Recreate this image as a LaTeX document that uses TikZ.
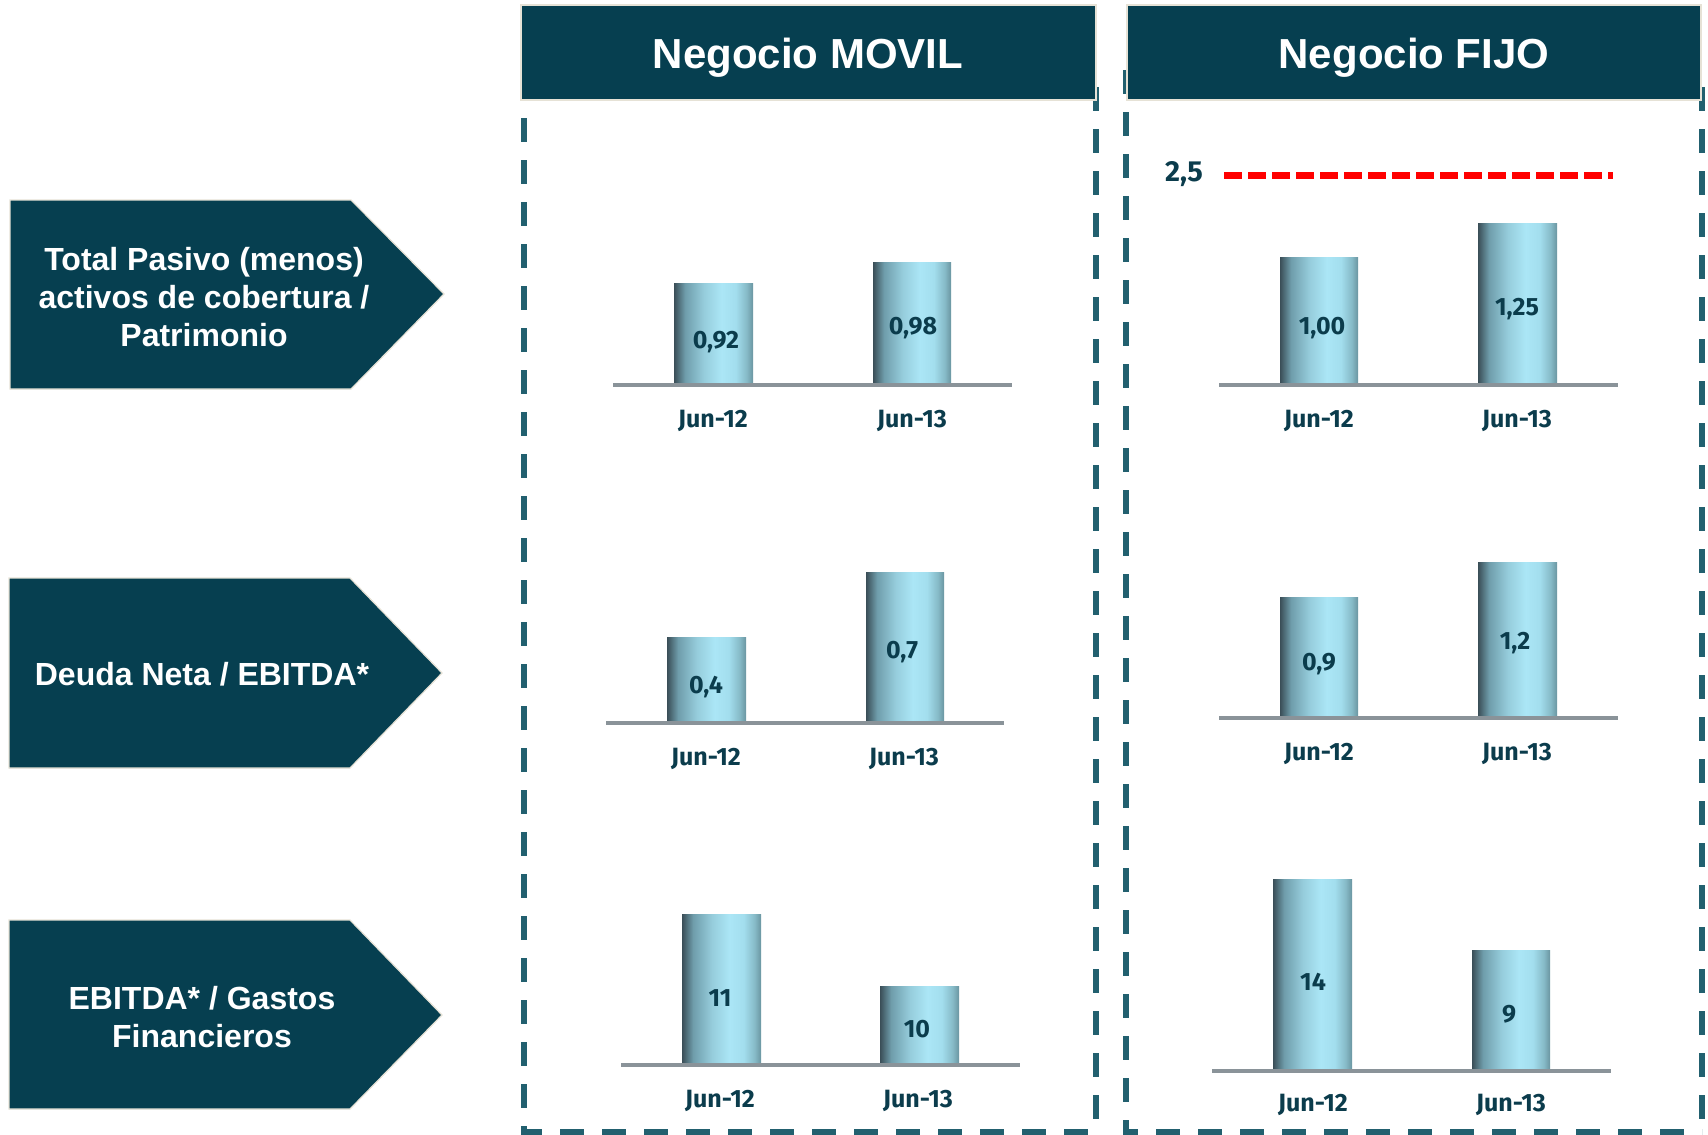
\documentclass[tikz,border=0pt]{standalone}
\usepackage{fontspec}
\setmainfont{Liberation Sans}
\newfontfamily\numfont{Fira Sans}
\definecolor{navy}{HTML}{063F50}
\definecolor{dashc}{HTML}{22606F}
\definecolor{txtc}{HTML}{0B3C4C}
\definecolor{baseg}{HTML}{8A9399}
\definecolor{edgec}{HTML}{E6E2D6}
\definecolor{ba}{HTML}{3A4E57}
\definecolor{bb}{HTML}{6F9DAB}
\definecolor{bc}{HTML}{96CDDC}
\definecolor{bd}{HTML}{ABE6F6}
\definecolor{be}{HTML}{A3DEEE}
\definecolor{bf}{HTML}{86BAC7}
\definecolor{bg}{HTML}{6A95A1}
\pgfdeclarehorizontalshading{barshade}{100bp}{color(0bp)=(ba); color(25bp)=(ba); color(32bp)=(bb); color(44bp)=(bc); color(55bp)=(bd); color(64bp)=(be); color(71bp)=(bf); color(75bp)=(bg); color(100bp)=(bg)}
\tikzset{
  arrowbox/.style={fill=navy, draw=edgec, line width=0.6pt},
  boxtext/.style={text=white, font=\fontsize{16}{19}\selectfont\bfseries, align=center},
  header/.style={fill=navy, draw=edgec, line width=0.6pt},
  headtext/.style={text=white, font=\fontsize{21}{25}\selectfont\bfseries},
  panel/.style={draw=dashc, line width=3pt, dash pattern=on 12pt off 9pt},
  barfill/.style={shading=barshade},
  baseline/.style={draw=baseg, line width=1.6pt},
  datelabel/.style={text=txtc, font=\numfont\fontsize{12.5}{14}\selectfont\bfseries},
  vallabel/.style={text=txtc, font=\numfont\fontsize{12.5}{14}\selectfont\bfseries},
  limitline/.style={draw=red, line width=3.5pt, dash pattern=on 9pt off 3pt},
}
\begin{document}
\begin{tikzpicture}[x=0.5pt,y=-0.5pt]
\useasboundingbox (0,0) rectangle (1708,1135);

% dashed panels
\draw[panel] (524,76) -- (524,1132) -- (1096,1132);
\draw[panel] (1096,87) -- (1096,1120);
\draw[panel] (1126,70) -- (1126,1132) -- (1702,1132);
\draw[panel] (1702,87) -- (1702,1120);

% headers
\path[header] (521,5) rectangle (1096,100);
\node[headtext] (hmovil) at (808,58) {Negocio MOVIL};
\path[header] (1127,5) rectangle (1701,100);
\node[headtext] (hfijo) at (1414,58) {Negocio FIJO};

% left arrow boxes
\path[arrowbox] (10,200) -- (351,200) -- (444,294) -- (351,389) -- (10,389) -- cycle;
\node[boxtext] (r1) at (204,297) {Total Pasivo (menos)\\activos de cobertura /\\Patrimonio};
\path[arrowbox] (9,578) -- (350,578) -- (442,673) -- (350,768) -- (9,768) -- cycle;
\node[boxtext] (r2) at (202,674) {Deuda Neta / EBITDA*};
\path[arrowbox] (9,920) -- (350,920) -- (442,1015) -- (350,1109) -- (9,1109) -- cycle;
\node[boxtext] (r3) at (202,1017) {EBITDA* / Gastos\\Financieros};

% ---- MOVIL row 1
\path[barfill] (674,283) rectangle (753,385);
\path[barfill] (873,262) rectangle (951,385);
\draw[baseline] (613,385) -- (1012,385);
\node[vallabel] (m1a) at (716,342) {0,92};
\node[vallabel] (m1b) at (913,328) {0,98};
\node[datelabel] (m1x) at (713,421) {Jun-12};
\node[datelabel] (m1y) at (912,421) {Jun-13};

% ---- MOVIL row 2
\path[barfill] (667,637) rectangle (746,723);
\path[barfill] (866,572) rectangle (944,723);
\draw[baseline] (606,723) -- (1004,723);
\node[vallabel] (m2a) at (706,687) {0,4};
\node[vallabel] (m2b) at (902,652) {0,7};
\node[datelabel] (m2x) at (706,759) {Jun-12};
\node[datelabel] (m2y) at (904,759) {Jun-13};

% ---- MOVIL row 3
\path[barfill] (682,914) rectangle (761,1065);
\path[barfill] (880,986) rectangle (959,1065);
\draw[baseline] (621,1065) -- (1020,1065);
\node[vallabel] (m3a) at (720,998) {11};
\node[vallabel] (m3b) at (917,1029) {10};
\node[datelabel] (m3x) at (720,1101) {Jun-12};
\node[datelabel] (m3y) at (918,1101) {Jun-13};

% ---- FIJO row 1
\node[text=txtc, font=\numfont\fontsize{14.5}{16}\selectfont\bfseries] (lim) at (1184,174) {2,5};
\coordinate (lima) at (1224,175);
\coordinate (limb) at (1613,175);
\draw[limitline] (lima) -- (limb);
\path[barfill] (1280,257) rectangle (1358,385);
\path[barfill] (1478,223) rectangle (1557,385);
\draw[baseline] (1219,385) -- (1618,385);
\node[vallabel] (f1a) at (1322,328) {1,00};
\node[vallabel] (f1b) at (1517,309) {1,25};
\node[datelabel] (f1x) at (1319,421) {Jun-12};
\node[datelabel] (f1y) at (1517,421) {Jun-13};

% ---- FIJO row 2
\path[barfill] (1280,597) rectangle (1358,718);
\path[barfill] (1478,562) rectangle (1557,718);
\draw[baseline] (1219,718) -- (1618,718);
\node[vallabel] (f2a) at (1319,664) {0,9};
\node[vallabel] (f2b) at (1515,643) {1,2};
\node[datelabel] (f2x) at (1319,754) {Jun-12};
\node[datelabel] (f2y) at (1517,754) {Jun-13};

% ---- FIJO row 3
\path[barfill] (1273,879) rectangle (1352,1071);
\path[barfill] (1472,950) rectangle (1550,1071);
\draw[baseline] (1212,1071) -- (1611,1071);
\node[vallabel] (f3a) at (1313,982) {14};
\node[vallabel] (f3b) at (1509,1014) {9};
\node[datelabel] (f3x) at (1313,1105) {Jun-12};
\node[datelabel] (f3y) at (1511,1105) {Jun-13};
\end{tikzpicture}
\end{document}
